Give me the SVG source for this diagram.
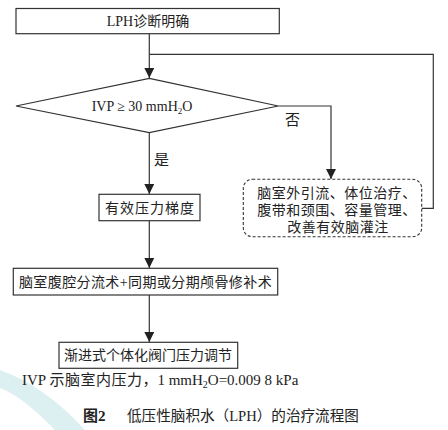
<svg xmlns="http://www.w3.org/2000/svg" width="448" height="430" viewBox="0 0 448 430">
<defs>
<marker id="arr" viewBox="0 0 10 10" refX="10" refY="5" markerWidth="10" markerHeight="10" markerUnits="userSpaceOnUse" orient="auto">
<path d="M0,0 L10,5 L0,10 Z" fill="#222"/>
</marker>
</defs>
<style>
.box{fill:#fff;stroke:#333;stroke-width:1.2}
.dash{fill:#fff;stroke:#333;stroke-width:1.1;stroke-dasharray:3,2}
.ln{fill:none;stroke:#333;stroke-width:1.2}
.t{font-family:"Liberation Serif","Noto Sans CJK SC",serif;font-size:14px;fill:#222;text-anchor:middle}
.f{font-family:"Liberation Serif","Noto Sans CJK SC",serif;font-size:15px;fill:#222}
</style>
<rect width="448" height="430" fill="#fff"/>
<path d="M0,370 Q45,386 85,430 L55,430 Q22,396 0,388 Z" fill="#dcf0f2"/>
<g id="connectors">
<path class="ln" d="M149.3,34 V78" marker-end="url(#arr)"/>
<path class="ln" d="M149.3,54.3 H433.3 V208.3 H421.7"/>
<path class="ln" d="M278.3,106 H331 V179" marker-end="url(#arr)"/>
<path class="ln" d="M149.3,132.7 V194" marker-end="url(#arr)"/>
<path class="ln" d="M149.3,220.7 V268" marker-end="url(#arr)"/>
<path class="ln" d="M149.3,295 V342" marker-end="url(#arr)"/>
<text class="f" x="154" y="165" font-size="14">是</text>
<text class="f" x="285" y="125" font-size="14">否</text>
</g>
<g id="start">
<rect class="box" x="16" y="8.5" width="263.3" height="25.2"/>
<text class="t" x="148" y="26">LPH诊断明确</text>
</g>
<g id="decision">
<polygon class="box" points="149.3,78.3 278.3,106 149.3,132.7 16,106"/>
<text class="t" x="142" y="111">IVP ≥ 30 mmH<tspan font-size="9" dy="3">2</tspan><tspan dy="-3">O</tspan></text>
</g>
<g id="gradient">
<rect class="box" x="99" y="194.3" width="101" height="26.4"/>
<text class="t" x="150" y="212.5" letter-spacing="1">有效压力梯度</text>
</g>
<g id="conservative">
<rect class="dash" x="243.3" y="179.3" width="178.4" height="57.4" rx="9" ry="9"/>
<text class="t" x="337" y="198" letter-spacing="0.5">脑室外引流、体位治疗、</text>
<text class="t" x="337" y="215" letter-spacing="0.5">腹带和颈围、容量管理、</text>
<text class="t" x="338" y="232" letter-spacing="0.5">改善有效脑灌注</text>
</g>
<g id="surgery">
<rect class="box" x="13.3" y="268.3" width="264.4" height="26.7"/>
<text class="t" x="145.5" y="286.5" letter-spacing="0.4">脑室腹腔分流术+同期或分期颅骨修补术</text>
</g>
<g id="valve">
<rect class="box" x="59" y="342.3" width="178.7" height="26"/>
<text class="t" x="148" y="360">渐进式个体化阀门压力调节</text>
</g>
<text class="f" x="22" y="385">IVP <tspan letter-spacing="0.5">示脑室内压力</tspan>，1 mmH<tspan font-size="10" dy="3">2</tspan><tspan dy="-3">O=0.009 8 kPa</tspan></text>
<text class="f" x="83" y="421"><tspan font-weight="bold">图2</tspan><tspan x="127" font-size="14.6">低压性脑积水（LPH）的治疗流程图</tspan></text>
</svg>
